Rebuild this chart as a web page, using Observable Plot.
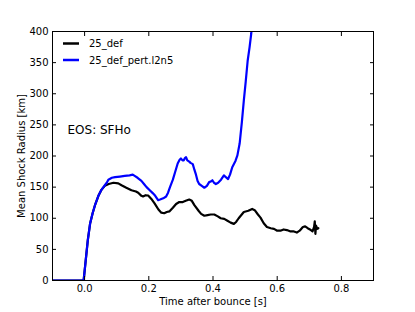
<!DOCTYPE html>
<html>
<head>
<meta charset="utf-8">
<script src="https://cdn.jsdelivr.net/npm/d3@7"></script>
<script src="https://cdn.jsdelivr.net/npm/@observablehq/plot@0.6"></script>
<style>
  html, body { margin: 0; padding: 0; background: #fff; }
  #chart svg { display: block; }
</style>
</head>
<body>
<div id="chart"></div>
<script>
const seriesNames = ["25_def", "25_def_pert.l2n5"];
const seriesColors = ["#000000", "#0000ff"];
const annotation = "EOS: SFHo";
const xTicks = [0.0, 0.2, 0.4, 0.6, 0.8];
const yTicks = [0, 50, 100, 150, 200, 250, 300, 350, 400];

const blackT = [-0.1, -0.003, 0.005, 0.01, 0.017, 0.025, 0.033, 0.043, 0.053, 0.063, 0.075, 0.09, 0.105, 0.115, 0.13, 0.146, 0.16, 0.167, 0.177, 0.182, 0.19, 0.198, 0.208, 0.218, 0.23, 0.239, 0.248, 0.256, 0.264, 0.275, 0.285, 0.295, 0.306, 0.315, 0.326, 0.334, 0.342, 0.355, 0.363, 0.373, 0.383, 0.393, 0.404, 0.415, 0.424, 0.435, 0.445, 0.455, 0.465, 0.472, 0.48, 0.496, 0.51, 0.522, 0.53, 0.54, 0.548, 0.558, 0.568, 0.58, 0.59, 0.6, 0.61, 0.62, 0.63, 0.64, 0.65, 0.661, 0.67, 0.68, 0.687, 0.695, 0.702, 0.71, 0.715, 0.717, 0.719, 0.721, 0.725, 0.728];
const blackR = [0, 0, 40, 65, 91, 108, 122, 136, 146, 152, 155, 157, 156, 153, 149, 145, 143, 141, 136, 135, 137, 136.5, 131, 124, 114, 109, 108, 110, 111, 117, 123, 126, 126, 128, 130, 128, 121, 112, 107, 104, 105, 106, 106, 103, 100, 99, 96, 93, 91, 94, 100, 110, 112, 115, 113, 106, 101, 92, 86, 84, 83, 80, 80, 82, 81, 79, 79, 77, 80, 86, 87, 84, 82, 79, 86, 95, 75, 88, 83, 84];

const blueT = [-0.1, -0.003, 0.005, 0.01, 0.017, 0.025, 0.033, 0.043, 0.053, 0.063, 0.069, 0.074, 0.085, 0.095, 0.11, 0.125, 0.14, 0.15, 0.156, 0.165, 0.177, 0.185, 0.193, 0.203, 0.213, 0.22, 0.229, 0.235, 0.245, 0.254, 0.26, 0.266, 0.275, 0.283, 0.29, 0.296, 0.3, 0.305, 0.309, 0.313, 0.316, 0.32, 0.326, 0.33, 0.337, 0.342, 0.347, 0.352, 0.357, 0.365, 0.373, 0.381, 0.388, 0.393, 0.398, 0.403, 0.409, 0.416, 0.425, 0.434, 0.44, 0.447, 0.453, 0.46, 0.466, 0.47, 0.476, 0.483, 0.49, 0.496, 0.502, 0.508, 0.514, 0.519, 0.525];
const blueR = [0, 0, 40, 65, 91, 108, 122, 136, 146, 153, 157, 162, 165, 166, 167, 168, 169, 170, 168, 165, 160, 155, 150, 145, 140, 136, 129, 130, 132, 135, 141, 150, 162, 176, 188, 194, 196, 193, 193, 197, 198, 193, 191, 189, 187, 178, 170, 160, 155, 152, 149, 152, 158, 159, 161, 157, 155, 157, 162, 169, 166, 163, 170, 182, 188, 192, 201, 220, 255, 289, 320, 353, 375, 396, 430];

const data = [
  ...blackT.map((t, i) => ({t, r: blackR[i], s: seriesNames[0]})),
  ...blueT.map((t, i) => ({t, r: blueR[i], s: seriesNames[1]}))
];

const W = 415, H = 312;
const mL = 52, mR = 42, mT = 31, mB = 32;
const font = "DejaVu Sans, sans-serif";

const plot = Plot.plot({
  width: W,
  height: H,
  marginLeft: mL,
  marginRight: mR,
  marginTop: mT,
  marginBottom: mB,
  style: {fontFamily: font, fontSize: "10px", color: "#000", background: "#fff"},
  x: {domain: [-0.1, 0.9], ticks: xTicks, tickFormat: d3.format(".1f")},
  y: {domain: [0, 400], ticks: yTicks},
  color: {domain: seriesNames, range: seriesColors},
  marks: [
    Plot.line(data, {x: "t", y: "r", z: "s", stroke: "s", strokeWidth: 2.2, clip: true, strokeLinejoin: "round"}),
    Plot.frame({stroke: "#000", strokeWidth: 1}),
    // inward ticks
    Plot.axisY(yTicks, {anchor: "left", tickSize: 4, text: null, label: null, dx: 4, stroke: "#000"}),
    Plot.axisY(yTicks, {anchor: "right", tickSize: 4, text: null, label: null, dx: -4, stroke: "#000"}),
    Plot.axisX(xTicks, {anchor: "bottom", tickSize: 4, text: null, label: null, dy: -4, stroke: "#000"}),
    Plot.axisX(xTicks, {anchor: "top", tickSize: 4, text: null, label: null, dy: 4, stroke: "#000"}),
    // labels
    Plot.axisY(yTicks, {anchor: "left", tickSize: 0, tickPadding: 4, label: null, fill: "#000", fontSize: 10}),
    Plot.axisX(xTicks, {anchor: "bottom", tickSize: 0, tickPadding: 4, label: null, fill: "#000", fontSize: 10, tickFormat: d3.format(".1f")}),
    Plot.text(["Mean Shock Radius [km]"], {frameAnchor: "left", textAnchor: "middle", lineAnchor: "middle", rotate: -90, dx: -31, fontSize: 10, fill: "#000"}),
    Plot.text(["Time after bounce [s]"], {frameAnchor: "bottom", lineAnchor: "middle", dy: 21, fontSize: 10, fill: "#000"}),
    Plot.text([annotation], {frameAnchor: "top-left", lineAnchor: "middle", dx: 15, dy: 99, fontSize: 12, fill: "#000", textAnchor: "start"})
  ]
});

document.getElementById("chart").appendChild(plot);

// legend
const svg = d3.select(plot);
const lg = svg.append("g").attr("font-family", font).attr("font-size", 10).attr("text-anchor", "start");
seriesNames.forEach((name, i) => {
  const y = 43.5 + i * 16.5;
  lg.append("line").attr("x1", 63).attr("x2", 79).attr("y1", y).attr("y2", y)
    .attr("stroke", seriesColors[i]).attr("stroke-width", 2.5);
  lg.append("text").attr("x", 89).attr("y", y).attr("dy", "0.35em").attr("fill", "#000").text(name);
});
</script>
</body>
</html>
